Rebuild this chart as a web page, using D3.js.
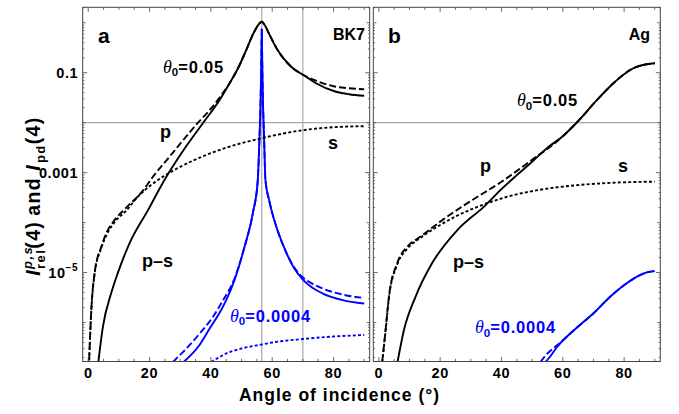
<!DOCTYPE html>
<html>
<head>
<meta charset="utf-8">
<script src="https://cdn.jsdelivr.net/npm/d3@7"></script>
<style>
  body { margin: 0; background: #fff; }
  svg { display: block; }
  text { font-family: "Liberation Sans", Arial, sans-serif; font-weight: bold; }
</style>
</head>
<body>
<div id="chart"></div>
<script>
// every curve is a list of [angle of incidence (deg), log10 of intensity]

// panel a, BK7, theta0 = 0.05
const bk7P05 = [[0.3,-6.75],[1.0,-5.75],[2.1,-5.0],[4.3,-4.48],[5.9,-4.21],[8.6,-3.95],[12.4,-3.7],[17.3,-3.4],[21.5,-3.05],[26,-2.72],[30,-2.42],[35.8,-2.0],[40,-1.72],[44,-1.4],[46.1,-1.21],[49.1,-0.88],[51.5,-0.55],[53.9,-0.21],[55.6,-0.03],[56.6,0.02],[57.6,-0.05],[58.9,-0.21],[61.8,-0.55],[66.2,-0.88],[70,-1.04],[74.3,-1.16],[80,-1.27],[85,-1.31],[90,-1.33]];
const bk7PS05 = [[3.3,-6.79],[4.8,-6.08],[7.5,-5.41],[9.7,-5.0],[13.5,-4.41],[19.5,-3.75],[25,-3.13],[30.5,-2.6],[37.5,-2.0],[42.8,-1.55],[46.1,-1.21],[49.1,-0.88],[51.5,-0.55],[53.9,-0.21],[55.6,-0.03],[56.6,0.02],[57.6,-0.05],[58.9,-0.21],[61.8,-0.55],[66.2,-0.88],[71.1,-1.08],[74.3,-1.21],[80.8,-1.38],[85,-1.43],[90,-1.46]];
const bk7S05 = [[0.3,-6.76],[1.0,-5.77],[2.1,-5.02],[4.3,-4.5],[6,-4.24],[8.6,-3.99],[12.4,-3.76],[16.2,-3.48],[20,-3.27],[24.4,-3.08],[28,-2.95],[34.5,-2.75],[45,-2.5],[56.6,-2.31],[70,-2.15],[80,-2.09],[90,-2.07]];

// panel a, BK7, theta0 = 0.0004
const bk7P0004 = [[27.6,-6.79],[32,-6.52],[36.5,-6.21],[40.5,-5.9],[44,-5.55],[47.5,-5.15],[51,-4.48],[53.7,-3.81],[55.3,-3.15],[55.8,-2.4],[56.2,-1.6],[56.45,-0.8],[56.6,-0.12],[56.75,-0.8],[57.0,-1.6],[57.4,-2.4],[57.8,-3.15],[59,-3.55],[60.2,-3.85],[62,-4.2],[64.6,-4.6],[67,-4.88],[70,-5.1],[73,-5.22],[76.5,-5.32],[83,-5.44],[90,-5.51]];
const bk7PS0004 = [[31.1,-6.79],[36.3,-6.45],[39.6,-6.12],[42.8,-5.81],[45,-5.55],[47.7,-5.15],[51,-4.48],[53.7,-3.81],[55.3,-3.15],[55.8,-2.4],[56.2,-1.6],[56.45,-0.8],[56.6,-0.12],[56.75,-0.8],[57.0,-1.6],[57.4,-2.4],[57.8,-3.15],[59,-3.55],[60.2,-3.85],[62,-4.2],[64.6,-4.6],[67,-4.9],[70,-5.14],[73,-5.3],[76.5,-5.42],[83,-5.55],[90,-5.62]];
const bk7S0004 = [[40.1,-6.79],[42,-6.72],[45,-6.62],[50,-6.52],[56.6,-6.44],[60,-6.4],[70,-6.33],[80,-6.28],[90,-6.25]];

// panel b, Ag, theta0 = 0.05
const agP05 = [[1.1,-6.79],[2.2,-6.15],[3.3,-5.48],[6,-4.81],[9.3,-4.48],[13.6,-4.28],[20.7,-3.95],[28.9,-3.61],[40.8,-3.15],[50,-2.74],[58,-2.38],[64.5,-2.0],[71.1,-1.55],[76.5,-1.21],[83,-0.91],[87.4,-0.83],[90,-0.81]];
const agPS05 = [[6.1,-6.79],[8.2,-6.15],[12,-5.48],[17.4,-4.81],[25.6,-4.15],[34.3,-3.68],[40,-3.33],[45,-3.05],[50,-2.78],[55,-2.5],[60,-2.27],[64.5,-2.0],[71.1,-1.55],[76.5,-1.21],[83,-0.91],[87.4,-0.83],[90,-0.81]];
const agS05 = [[1.1,-6.79],[2.2,-6.17],[3.3,-5.5],[6,-4.84],[9.3,-4.52],[13,-4.33],[19.1,-4.08],[25.6,-3.86],[33.2,-3.66],[42,-3.48],[51.8,-3.35],[64.8,-3.25],[77,-3.2],[90,-3.18]];

// panel b, Ag, theta0 = 0.0004
const agP0004 = [[52.7,-6.79],[55,-6.62],[58,-6.46],[60,-6.36],[62.6,-6.21],[66.5,-6.0],[70.3,-5.8],[73.5,-5.6],[77,-5.4],[81.2,-5.2],[84.5,-5.07],[87.7,-4.99],[90,-4.97]];
const agPS0004 = [[54.4,-6.79],[56,-6.67],[58,-6.5],[60,-6.36],[62.6,-6.21],[66.5,-6.0],[70.3,-5.8],[73.5,-5.6],[77,-5.4],[81.2,-5.2],[84.5,-5.07],[87.7,-4.99],[90,-4.97]];

// vertical guide lines of panel a (deg) and the horizontal one (intensity)
const bk7Guides = [56.6, 70];
const hGuide = 0.01;

// ticks
const xMajor = [0, 20, 40, 60, 80];
const xMinor = [0, 5, 10, 15, 20, 25, 30, 35, 40, 45, 50, 55, 60, 65, 70, 75, 80, 85, 90];
const yLabelled = [1e-1, 1e-3, 1e-5];
const yLabelText = ["0.1", "0.001", "10^\u22125"];

const width = 679, height = 414;
const plotTop = 7.3, plotBottom = 361.5;
const blue = "#0000ff";

const svg = d3.select("#chart").append("svg")
    .attr("width", width)
    .attr("height", height)
    .attr("viewBox", [0, 0, width, height]);

const y = d3.scaleLog()
    .domain([10 ** -6.78, 10 ** 0.31])
    .range([plotBottom, plotTop]);

const solid = null, dashed = "7,3", dotted = "3,2.2";

const panels = [
  { key: "a", x0: 82.7, x1: 369.7, guides: bk7Guides, yLabels: true,
    series: [
      { data: bk7S0004, color: blue, dash: dotted },
      { data: bk7P0004, color: blue, dash: dashed },
      { data: bk7PS0004, color: blue, dash: solid },
      { data: bk7S05, color: "#000", dash: dotted },
      { data: bk7P05, color: "#000", dash: dashed },
      { data: bk7PS05, color: "#000", dash: solid }
    ] },
  { key: "b", x0: 373.3, x1: 660.3, guides: [], yLabels: false,
    series: [
      { data: agP0004, color: blue, dash: dashed },
      { data: agPS0004, color: blue, dash: solid },
      { data: agS05, color: "#000", dash: dotted },
      { data: agP05, color: "#000", dash: dashed },
      { data: agPS05, color: "#000", dash: solid }
    ] }
];

const frameColor = "#444";

panels.forEach(p => {
  const x = d3.scaleLinear().domain([-1.8, 91.8]).range([p.x0, p.x1]);
  const g = svg.append("g");

  g.append("clipPath").attr("id", "clip-" + p.key)
    .append("rect")
      .attr("x", p.x0).attr("y", plotTop)
      .attr("width", p.x1 - p.x0).attr("height", plotBottom - plotTop);

  // grey guides
  const guides = g.append("g").attr("stroke", "#a9a9a9").attr("stroke-width", 1.2);
  guides.selectAll("line.v").data(p.guides).join("line")
      .attr("class", "v")
      .attr("x1", d => x(d)).attr("x2", d => x(d))
      .attr("y1", plotTop).attr("y2", plotBottom);
  guides.append("line")
      .attr("x1", p.x0).attr("x2", p.x1)
      .attr("y1", y(hGuide)).attr("y2", y(hGuide));

  // curves
  const line = d3.line()
      .curve(d3.curveMonotoneX)
      .x(d => x(d[0]))
      .y(d => y(10 ** d[1]));

  g.append("g").attr("clip-path", `url(#clip-${p.key})`)
    .selectAll("path")
    .data(p.series)
    .join("path")
      .attr("fill", "none")
      .attr("stroke", d => d.color)
      .attr("stroke-width", 1.9)
      .attr("stroke-dasharray", d => d.dash)
      .attr("d", d => line(d.data));

  // frame
  g.append("rect")
      .attr("x", p.x0).attr("y", plotTop)
      .attr("width", p.x1 - p.x0).attr("height", plotBottom - plotTop)
      .attr("fill", "none").attr("stroke", frameColor).attr("stroke-width", 1);

  // x ticks, bottom and top, pointing inwards
  const ticks = g.append("g").attr("stroke", frameColor).attr("stroke-width", 0.8);
  xMinor.forEach(v => {
    const len = xMajor.includes(v) ? 4.5 : 2.6;
    ticks.append("line").attr("x1", x(v)).attr("x2", x(v))
        .attr("y1", plotBottom).attr("y2", plotBottom - len);
    ticks.append("line").attr("x1", x(v)).attr("x2", x(v))
        .attr("y1", plotTop).attr("y2", plotTop + len);
  });

  // y ticks, both sides
  for (let e = -7; e <= 0; e++) {
    for (let k = 1; k <= 9; k++) {
      const v = k * 10 ** e;
      if (v < y.domain()[0] || v > y.domain()[1]) continue;
      let len = 1.6;
      if (k === 1) len = yLabelled.some(t => Math.abs(t - v) / v < 1e-6) ? 4.5 : 3;
      ticks.append("line").attr("x1", p.x0).attr("x2", p.x0 + len)
          .attr("y1", y(v)).attr("y2", y(v));
      ticks.append("line").attr("x1", p.x1).attr("x2", p.x1 - len)
          .attr("y1", y(v)).attr("y2", y(v));
    }
  }

  // x tick labels
  g.append("g")
      .attr("font-size", 14.5)
      .attr("letter-spacing", 0.6)
      .attr("text-anchor", "middle")
    .selectAll("text")
    .data(xMajor)
    .join("text")
      .attr("x", d => x(d))
      .attr("y", 377.5)
      .text(d => d);

  if (p.yLabels) {
    yLabelled.forEach((v, i) => {
      const parts = yLabelText[i].split("^");
      const t = g.append("text")
          .attr("x", p.x0 - 4.5)
          .attr("y", y(v) + 5.2)
          .attr("font-size", 14.5)
          .attr("letter-spacing", 0.6)
          .attr("text-anchor", "end");
      t.append("tspan").text(parts[0]);
      if (parts[1]) t.append("tspan").attr("font-size", 10).attr("dy", -6.5).text(parts[1]);
    });
  }
});

// annotations
function theta(xp, yp, value, color) {
  const t = svg.append("text").attr("x", xp).attr("y", yp).attr("fill", color).attr("font-size", 16.5);
  t.append("tspan").attr("font-family", "'Liberation Serif', serif")
      .attr("font-style", "italic").attr("font-weight", "normal").attr("font-size", 18).text("\u03b8");
  t.append("tspan").attr("font-size", 11.5).attr("dy", 3.5).text("0");
  t.append("tspan").attr("dy", -3.5).attr("letter-spacing", 0.8).text("=" + value);
}

function word(xp, yp, s, size, anchor) {
  svg.append("text").attr("x", xp).attr("y", yp)
      .attr("font-size", size).attr("text-anchor", anchor || "start").text(s);
}

word(98, 42.5, "a", 21);
word(365, 39.5, "BK7", 16, "end");
word(388, 42.5, "b", 21);
word(650, 39.5, "Ag", 16, "end");

word(160, 138, "p", 18);
word(328, 148.5, "s", 18);
word(142, 266.5, "p\u2013s", 18);
word(480, 172, "p", 18);
word(618, 172, "s", 18);
word(453, 268, "p\u2013s", 18);

theta(163, 72.5, "0.05", "#000");
theta(230, 321.5, "0.0004", blue);
theta(517, 106, "0.05", "#000");
theta(475, 333, "0.0004", blue);

// x axis title
svg.append("text")
    .attr("x", 339.5).attr("y", 400.5)
    .attr("font-size", 17.5)
    .attr("letter-spacing", 1)
    .attr("text-anchor", "middle")
    .text("Angle of incidence (\u00b0)");

// y axis title: one text element, super/subscript stacked after the first I
const yTitle = svg.append("text")
    .attr("transform", "translate(40,196) rotate(-90)")
    .attr("text-anchor", "middle")
    .attr("font-size", 19.5)
    .attr("letter-spacing", 1.4);
yTitle.append("tspan").attr("font-style", "italic").text("I");
const sup = yTitle.append("tspan").attr("font-style", "italic")
    .attr("font-size", 13).attr("dy", -8).text("p,s");
const sub = yTitle.append("tspan").attr("font-size", 13).attr("dy", 13).text("rel");
yTitle.append("tspan").attr("dy", -5).text("(4)");
yTitle.append("tspan").attr("dx", 5).text("and");
yTitle.append("tspan").attr("dx", 6).attr("font-style", "italic").text("I");
yTitle.append("tspan").attr("dx", 1).attr("font-size", 13).attr("dy", 5).text("pd");
yTitle.append("tspan").attr("dy", -5).text("(4)");
sub.attr("dx", -sup.node().getComputedTextLength());
</script>
</body>
</html>
